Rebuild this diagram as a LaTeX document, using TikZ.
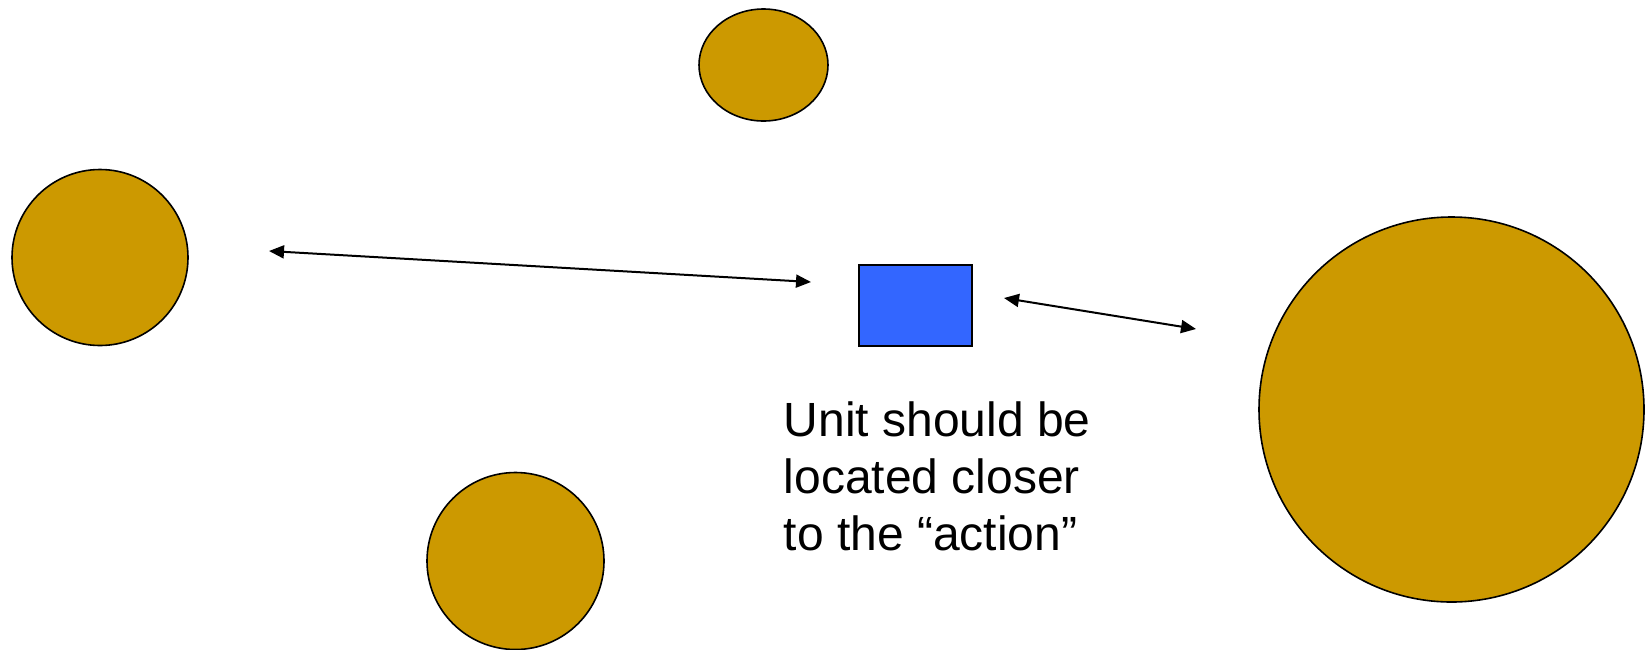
\documentclass[tikz,border=0pt]{standalone}
\usepackage{fontspec}
\setmainfont{Liberation Sans}
\usetikzlibrary{arrows.meta,shapes.geometric}
\definecolor{gold}{HTML}{CC9900}
\definecolor{unitblue}{HTML}{3366FF}
\begin{document}
\begin{tikzpicture}[x=1pt,y=-1pt,
  site/.style={draw=black,line width=1.6pt,fill=gold,inner sep=0pt},
  unitbox/.style={draw=black,line width=2.4pt,fill=unitblue,inner sep=0pt,minimum width=113pt,minimum height=81pt},
  link/.style={line width=2pt,{Triangle[length=15pt,width=13pt]}-{Triangle[length=15pt,width=13pt]}},
  note/.style={font=\fontsize{48}{57}\selectfont,align=left,inner sep=0pt,anchor=north west}]
\useasboundingbox (0,0) rectangle (1646,649);
\node[site,circle,minimum size=176pt] (left) at (100,257.5) {};
\node[site,ellipse,minimum width=129pt,minimum height=112pt] (top) at (763.5,65) {};
\node[site,circle,minimum size=177pt] (bottom) at (515.5,561) {};
\node[site,circle,minimum size=385pt] (big) at (1451.5,409.5) {};
\node[unitbox] (unit) at (915.5,305.5) {};
\coordinate (a1) at (269,251);
\coordinate (a2) at (811,282);
\coordinate (b1) at (1004,298);
\coordinate (b2) at (1196,329);
\draw[link] (a1) -- (a2);
\draw[link] (b1) -- (b2);
\node[note] (txt) at (783.5,402) {Unit should be\\located closer\\to the “action”};
\end{tikzpicture}
\end{document}
